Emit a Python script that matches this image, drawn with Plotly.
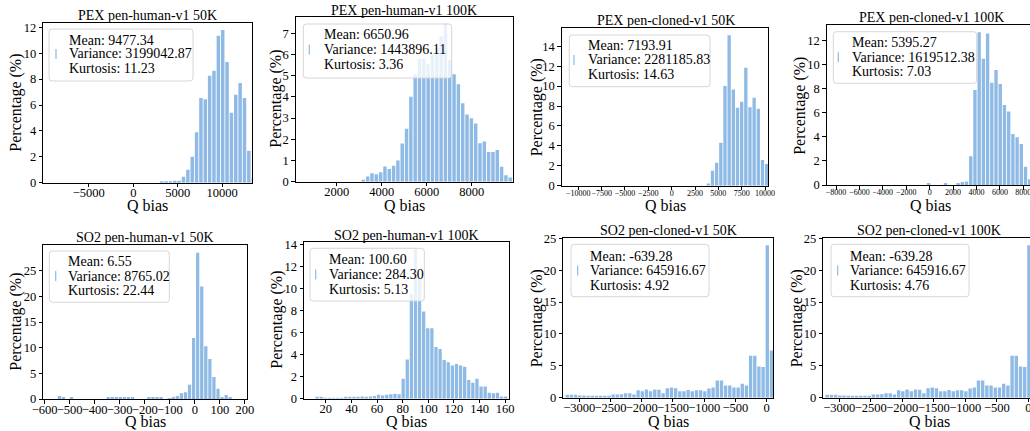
import plotly.graph_objects as go

W, H = 1030, 431
FONT = "Liberation Serif"
BAR_COLOR = "rgb(142,186,229)"

# ---------------- data ----------------
titles = ["PEX pen-human-v1 50K", "PEX pen-human-v1 100K", "PEX pen-cloned-v1 50K", "PEX pen-cloned-v1 100K",
          "SO2 pen-human-v1 50K", "SO2 pen-human-v1 100K", "SO2 pen-cloned-v1 50K", "SO2 pen-cloned-v1 100K"]
means = ["9477.34", "6650.96", "7193.91", "5395.27", "6.55", "100.60", "-639.28", "-639.28"]
variances = ["3199042.87", "1443896.11", "2281185.83", "1619512.38", "8765.02", "284.30", "645916.67", "645916.67"]
kurtoses = ["11.23", "3.36", "14.63", "7.03", "22.44", "5.13", "4.92", "4.76"]

# histogram bins: first bin centre, bin width, percentage per bin
pex_human_50k_first, pex_human_50k_bw = 3200, 490
pex_human_50k = [0.08, 0.08, 0.08, 0.15, 0.15, 0.45, 1.0, 2.0, 3.9, 6.55, 6.45, 8.25, 8.65, 11.35,
                 11.8, 9.33, 5.4, 6.8, 7.7, 6.55, 2.47, 0.3]

pex_human_100k_first, pex_human_100k_bw = 3185, 192
pex_human_100k = [0.05, 0.25, 0.4, 0.35, 0.45, 0.72, 0.6, 0.75, 1.0, 1.8, 2.5, 4.0, 5.05, 5.8, 5.8,
                  5.55, 6.0, 6.3, 6.85, 7.45, 5.75, 5.07, 4.6, 3.7, 3.17, 2.99, 2.75, 1.81, 1.89, 1.4,
                  1.4, 1.49, 0.71, 0.31, 0.2]

pex_cloned_50k_first, pex_cloned_50k_bw = 3929, 446
pex_cloned_50k = [0.23, 1.5, 2.3, 4.3, 10.0, 15.1, 9.66, 7.82, 8.42, 11.83, 7.88, 8.82, 7.72, 2.57, 2.17]

pex_cloned_100k_first, pex_cloned_100k_bw = -90, 360
pex_cloned_100k = [0.1, 0, 0, 0, 0.1, 0, 0, 0.1, 0.25, 0.3, 2.4, 7.9, 12.7, 10.5, 12.6, 8.5, 9.56,
                   8.4, 6.65, 6.1, 4.24, 3.96, 3.4, 1.52, 0.47]

so2_human_50k_first, so2_human_50k_bw = -589.6, 16.24
so2_human_50k = [0, 0, 0, 0.6, 0.3, 0, 0.2, 0, 0, 0,
                 0, 0, 0, 0, 0, 0.2, 0.25, 0.2, 0.2, 0.25,
                 0.2, 0.2, 0, 0, 0, 0.2, 0.2, 0.2, 0.4, 0,
                 0.1, 0.3, 0.6, 1.1, 1.3, 2.8, 11.9, 28.5, 21.9, 10.3,
                 7.8, 4.3, 2.0, 0.4, 0.8, 0.4, 0, 0, 0, 0]

so2_human_100k_first, so2_human_100k_bw = 6.8, 3.2
so2_human_100k = [0, 0, 0.1, 0.1, 0.05, 0.05, 0.05, 0.05, 0.05, 0.1,
                  0.1, 0.1, 0.1, 0.2, 0.1, 0.2, 0.25, 0.35, 0.3, 0.35,
                  0.4, 0.45, 0.4, 1.8, 3.55, 9.5, 13.6, 11.0, 7.9, 6.4,
                  6.4, 4.7, 4.5, 3.5, 3.3, 3.0, 3.15, 3.0, 2.9, 1.7,
                  1.45, 1.8, 1.1, 1.1, 0.55, 0.5, 0.55, 0.2, 0.2, 0]

so2_cloned_50k_first, so2_cloned_50k_bw = -3192, 66.7
so2_cloned_50k = [0.47, 0.47, 0.45, 0.35, 0.35, 0.3, 0.25, 0.2, 0.2, 0.2,
                  0.2, 0.5, 0.5, 0.55, 0.7, 0.7, 0.5, 1.15, 1.0, 1.3,
                  1.0, 1.3, 1.25, 0.7, 1.5, 1.6, 1.5, 1.0, 1.0, 1.2,
                  1.0, 1.15, 1.15, 1.0, 1.45, 1.6, 2.7, 2.7, 1.9, 1.9,
                  1.6, 1.6, 2.2, 1.9, 6.6, 6.6, 4.9, 4.8, 23.9, 7.4]

so2_cloned_100k_first, so2_cloned_100k_bw = -3192, 66.7
so2_cloned_100k = [0.47, 0.47, 0.45, 0.35, 0.35, 0.3, 0.25, 0.2, 0.2, 0.2,
                   0.2, 0.5, 0.5, 0.55, 0.7, 0.7, 0.5, 1.15, 1.0, 1.3,
                   1.0, 1.3, 1.25, 0.7, 1.5, 1.6, 1.5, 1.0, 1.0, 1.2,
                   1.0, 1.15, 1.15, 1.0, 1.45, 1.6, 2.7, 2.7, 1.9, 1.9,
                   1.6, 1.6, 2.2, 1.9, 6.6, 6.6, 4.9, 4.8, 23.9, 7.4]

hists = [
    (pex_human_50k_first, pex_human_50k_bw, pex_human_50k),
    (pex_human_100k_first, pex_human_100k_bw, pex_human_100k),
    (pex_cloned_50k_first, pex_cloned_50k_bw, pex_cloned_50k),
    (pex_cloned_100k_first, pex_cloned_100k_bw, pex_cloned_100k),
    (so2_human_50k_first, so2_human_50k_bw, so2_human_50k),
    (so2_human_100k_first, so2_human_100k_bw, so2_human_100k),
    (so2_cloned_50k_first, so2_cloned_50k_bw, so2_cloned_50k),
    (so2_cloned_100k_first, so2_cloned_100k_bw, so2_cloned_100k),
]

x_ticks = [
    [-5000, 0, 5000, 10000],
    [2000, 4000, 6000, 8000],
    [-10000, -7500, -5000, -2500, 0, 2500, 5000, 7500, 10000],
    [-8000, -6000, -4000, -2000, 0, 2000, 4000, 6000, 8000],
    [-600, -500, -400, -300, -200, -100, 0, 100, 200],
    [20, 40, 60, 80, 100, 120, 140, 160],
    [-3000, -2500, -2000, -1500, -1000, -500, 0],
    [-3000, -2500, -2000, -1500, -1000, -500, 0],
]
y_ticks = [
    [0, 2, 4, 6, 8, 10, 12],
    [0, 1, 2, 3, 4, 5, 6, 7],
    [0, 2, 4, 6, 8, 10, 12, 14],
    [0, 2, 4, 6, 8, 10, 12],
    [0, 5, 10, 15, 20, 25],
    [0, 2, 4, 6, 8, 10, 12, 14],
    [0, 5, 10, 15, 20, 25],
    [0, 5, 10, 15, 20, 25],
]

# ---------------- layout (pixels) ----------------
# plot rectangles: left, top, right, bottom
rects = [
    (43.3, 23.3, 252.3, 182.7), (295.7, 16.7, 513, 181.7), (561.7, 28.3, 768, 185.7), (826.7, 25, 1030, 185),
    (43.3, 245, 246.7, 399), (304, 241.7, 509, 398.7), (563.3, 237.7, 773.3, 397.7), (823.3, 237.7, 1030, 397.7),
]
x_ranges = [(-10125, 13390), (178, 9836), (-11780, 10320), (-8794, 8572),
            (-605, 207), (3, 163), (-3256, 106), (-3254, 27)]
y_ranges = [(0, 12.31), (0, 7.78), (0, 15.8), (0, 13.3), (0, 30.0), (0, 14.24), (0, 25.1), (0, 25.1)]
x_tick_size = [12.5, 12.5, 8, 8, 12.5, 12.5, 12.5, 12.5]
x_tick_standoff = [-5, -5, -4, -4, -5, -5, -5, -5]
title_pos = [(147.8, 15), (404.4, 10), (666, 20.7), (931.7, 17.3),
             (145, 237.7), (406.5, 235.7), (668.3, 230.7), (929.2, 230.7)]
xlabel_pos = [(147.8, 205), (404.4, 205.5), (665, 205), (930.8, 205),
              (145, None), (406.5, None), (668.3, None), (929, None)]
ylabel_pos = [(15.7, 103), (275.7, 99), (537.3, 107), (799.3, 105.5),
              (15.7, 322), (276.7, 320), (537.3, 318), (797.3, 318)]
# legend boxes: left, top, right, bottom, text x, line ys, marker x
legend_boxes = [
    (49, 29, 193, 81, 66.7, (40, 54, 68), 56),
    (303.3, 24, 451.7, 78, 321.7, (34, 49.5, 64.5), 309.3),
    (569.3, 35, 710, 86.7, 586, (45.7, 60, 74), 574),
    (833.3, 31.7, 976.7, 83.3, 850, (42.7, 57.3, 71.7), 838.3),
    (49.3, 251, 169.3, 302.3, 66, (261.7, 276, 290.3), 55.7),
    (310, 248.3, 424.3, 301, 326.7, (259, 274.5, 289), 315.7),
    (571, 244.3, 709, 296.7, 588.3, (256, 270.5, 285), 577.7),
    (831, 244.3, 969, 296.7, 848.3, (256, 270.5, 285), 837.7),
]


def PX(x):
    return x / W


def PY(y):
    return 1 - y / H


def fmt(v):
    s = f"{v:g}"
    return s.replace("-", "\u2212")


fig = go.Figure()
annotations = []
shapes = []
layout = {}

for i in range(8):
    n = "" if i == 0 else str(i + 1)
    first, bw, pct = hists[i]
    centers = [first + k * bw for k in range(len(pct))]
    fig.add_trace(go.Bar(x=centers, y=pct, width=[bw * 0.8] * len(pct),
                         marker=dict(color=BAR_COLOR, line=dict(width=0)),
                         xaxis="x" + n, yaxis="y" + n, showlegend=False,
                         hoverinfo="x+y"))
    l, t, r, b = rects[i]
    layout["xaxis" + n] = dict(
        domain=[PX(l), min(PX(r), 1.0)], range=list(x_ranges[i]), anchor="y" + n,
        showline=True, linecolor="black", linewidth=1, mirror=True, automargin=False,
        ticks="outside", ticklen=3.5, tickwidth=0.8, tickcolor="black",
        tickvals=x_ticks[i], ticktext=[fmt(v) for v in x_ticks[i]], tickangle=0,
        ticklabelstandoff=x_tick_standoff[i], ticklabeloverflow="allow",
        tickfont=dict(family=FONT, size=x_tick_size[i], color="black"),
        showgrid=False, zeroline=False, fixedrange=True,
    )
    layout["yaxis" + n] = dict(
        domain=[PY(b), PY(t)], range=list(y_ranges[i]), anchor="x" + n,
        showline=True, linecolor="black", linewidth=1, mirror=(i not in (3, 7)), automargin=False,
        ticks="outside", ticklen=3.5, tickwidth=0.8, tickcolor="black",
        tickvals=y_ticks[i], ticktext=[fmt(v) for v in y_ticks[i]], tickangle=0,
        ticklabeloverflow="allow",
        tickfont=dict(family=FONT, size=12.5, color="black"),
        showgrid=False, zeroline=False, fixedrange=True,
    )
    # subplot title
    tx, ty = title_pos[i]
    annotations.append(dict(text=titles[i], x=PX(tx), y=PY(ty), xref="paper", yref="paper",
                            xanchor="center", yanchor="middle", showarrow=False,
                            font=dict(family=FONT, size=14, color="black")))
    # axis titles
    ax_, ay_ = xlabel_pos[i]
    if ay_ is None:
        annotations.append(dict(text="Q bias", x=PX(ax_), y=0, xref="paper", yref="paper",
                                xanchor="center", yanchor="bottom", showarrow=False, borderpad=0,
                                font=dict(family=FONT, size=16, color="black")))
    else:
        annotations.append(dict(text="Q bias", x=PX(ax_), y=PY(ay_), xref="paper", yref="paper",
                                xanchor="center", yanchor="middle", showarrow=False, borderpad=0,
                                font=dict(family=FONT, size=16, color="black")))
    lx, ly = ylabel_pos[i]
    annotations.append(dict(text="Percentage (%)", x=PX(lx), y=PY(ly), xref="paper", yref="paper",
                            xanchor="center", yanchor="middle", showarrow=False, textangle=-90,
                            font=dict(family=FONT, size=16, color="black")))
    # legend box
    x0, y0, x1, y1, txt_x, lines_y, mk_x = legend_boxes[i]
    rr = 3
    path = (f"M {PX(x0+rr)},{PY(y0)} L {PX(x1-rr)},{PY(y0)} Q {PX(x1)},{PY(y0)} {PX(x1)},{PY(y0+rr)} "
            f"L {PX(x1)},{PY(y1-rr)} Q {PX(x1)},{PY(y1)} {PX(x1-rr)},{PY(y1)} "
            f"L {PX(x0+rr)},{PY(y1)} Q {PX(x0)},{PY(y1)} {PX(x0)},{PY(y1-rr)} "
            f"L {PX(x0)},{PY(y0+rr)} Q {PX(x0)},{PY(y0)} {PX(x0+rr)},{PY(y0)} Z")
    shapes.append(dict(type="path", path=path, xref="paper", yref="paper",
                       fillcolor="rgba(255,255,255,0.8)", line=dict(color="rgb(214,214,214)", width=1),
                       layer="above"))
    shapes.append(dict(type="line", xref="paper", yref="paper",
                       x0=PX(mk_x), x1=PX(mk_x), y0=PY(lines_y[1] - 5), y1=PY(lines_y[1] + 5),
                       line=dict(color=BAR_COLOR, width=1.2), layer="above"))
    texts = ["Mean: " + means[i], "Variance: " + variances[i], "Kurtosis: " + kurtoses[i]]
    for tline, yy in zip(texts, lines_y):
        annotations.append(dict(text=tline, x=PX(txt_x), y=PY(yy), xref="paper", yref="paper",
                                xanchor="left", yanchor="middle", showarrow=False,
                                font=dict(family=FONT, size=14, color="black")))

fig.update_layout(
    template="none",
    width=W, height=H, margin=dict(l=0, r=0, t=0, b=0, autoexpand=False),
    paper_bgcolor="white", plot_bgcolor="white",
    showlegend=False, annotations=annotations, shapes=shapes,
    barmode="overlay",
    **layout,
)

fig.write_html("out.html")
